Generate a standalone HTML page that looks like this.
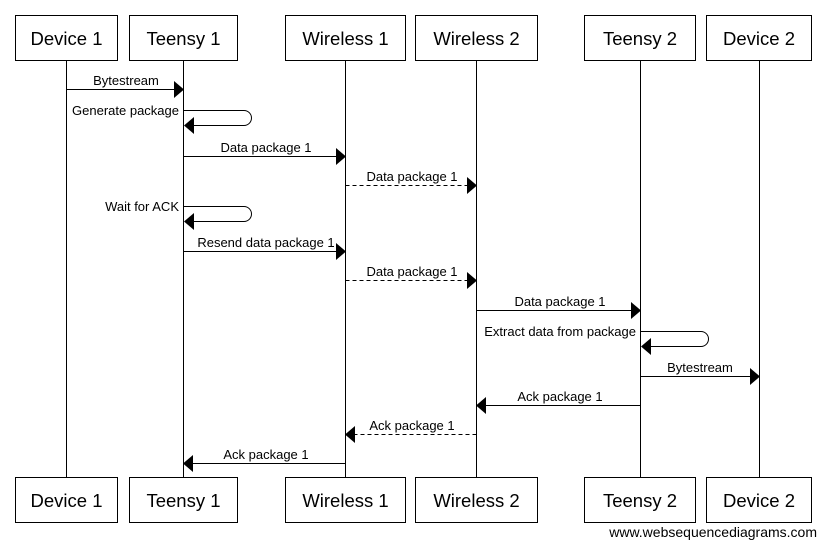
<!DOCTYPE html>
<html><head><meta charset="utf-8"><style>html,body{margin:0;padding:0;background:#fff}svg{display:block}</style></head><body>
<svg width="827" height="547" viewBox="0 0 827 547" xmlns="http://www.w3.org/2000/svg" font-family="Liberation Sans, Arial, sans-serif">
<g stroke="#000" stroke-width="1" fill="none">
<line x1="66.5" y1="60" x2="66.5" y2="477"/>
<line x1="183.5" y1="60" x2="183.5" y2="477"/>
<line x1="345.5" y1="60" x2="345.5" y2="477"/>
<line x1="476.5" y1="60" x2="476.5" y2="477"/>
<line x1="640.5" y1="60" x2="640.5" y2="477"/>
<line x1="759.5" y1="60" x2="759.5" y2="477"/>
<rect x="15.5" y="15.5" width="102" height="45"/>
<rect x="129.5" y="15.5" width="108" height="45"/>
<rect x="285.5" y="15.5" width="120" height="45"/>
<rect x="415.5" y="15.5" width="122" height="45"/>
<rect x="584.5" y="15.5" width="111" height="45"/>
<rect x="706.5" y="15.5" width="105" height="45"/>
<rect x="15.5" y="477.5" width="102" height="45"/>
<rect x="129.5" y="477.5" width="108" height="45"/>
<rect x="285.5" y="477.5" width="120" height="45"/>
<rect x="415.5" y="477.5" width="122" height="45"/>
<rect x="584.5" y="477.5" width="111" height="45"/>
<rect x="706.5" y="477.5" width="105" height="45"/>
<line x1="66.5" y1="89.5" x2="175" y2="89.5"/>
<path d="M184 110.5 H244 A7.5 7.5 0 0 1 244 125.5 H192"/>
<line x1="183.5" y1="156.5" x2="337" y2="156.5"/>
<line x1="345.5" y1="185.5" x2="468" y2="185.5" stroke-dasharray="4,3"/>
<path d="M184 206.5 H244 A7.5 7.5 0 0 1 244 221.5 H192"/>
<line x1="183.5" y1="251.5" x2="337" y2="251.5"/>
<line x1="345.5" y1="280.5" x2="468" y2="280.5" stroke-dasharray="4,3"/>
<line x1="476.5" y1="310.5" x2="632" y2="310.5"/>
<path d="M641 331.5 H701 A7.5 7.5 0 0 1 701 346.5 H649"/>
<line x1="640.5" y1="376.5" x2="751" y2="376.5"/>
<line x1="640.5" y1="405.5" x2="485" y2="405.5"/>
<line x1="476.5" y1="434.5" x2="354" y2="434.5" stroke-dasharray="4,3"/>
<line x1="345.5" y1="463.5" x2="192" y2="463.5"/>
</g>
<g fill="#000">
<polygon points="174,81 184,89.5 174,98"/>
<polygon points="194,117 184,125.5 194,134"/>
<polygon points="336,148 346,156.5 336,165"/>
<polygon points="467,177 477,185.5 467,194"/>
<polygon points="194,213 184,221.5 194,230"/>
<polygon points="336,243 346,251.5 336,260"/>
<polygon points="467,272 477,280.5 467,289"/>
<polygon points="631,302 641,310.5 631,319"/>
<polygon points="651,338 641,346.5 651,355"/>
<polygon points="750,368 760,376.5 750,385"/>
<polygon points="486,397 476,405.5 486,414"/>
<polygon points="355,426 345,434.5 355,443"/>
<polygon points="193,455 183,463.5 193,472"/>
</g>
<g font-size="18.5" text-anchor="middle" fill="#000">
<text x="66.5" y="45">Device 1</text><text x="183.5" y="45">Teensy 1</text><text x="345.5" y="45">Wireless 1</text><text x="476.5" y="45">Wireless 2</text><text x="640" y="45">Teensy 2</text><text x="759" y="45">Device 2</text>
<text x="66.5" y="507">Device 1</text><text x="183.5" y="507">Teensy 1</text><text x="345.5" y="507">Wireless 1</text><text x="476.5" y="507">Wireless 2</text><text x="640" y="507">Teensy 2</text><text x="759" y="507">Device 2</text>
</g>
<g font-size="13" fill="#000">
<text x="126" y="85" text-anchor="middle">Bytestream</text>
<text x="179" y="115" text-anchor="end">Generate package</text>
<text x="266" y="152" text-anchor="middle">Data package 1</text>
<text x="412" y="181" text-anchor="middle">Data package 1</text>
<text x="179" y="211" text-anchor="end">Wait for ACK</text>
<text x="266" y="247" text-anchor="middle">Resend data package 1</text>
<text x="412" y="276" text-anchor="middle">Data package 1</text>
<text x="560" y="306" text-anchor="middle">Data package 1</text>
<text x="636" y="336" text-anchor="end">Extract data from package</text>
<text x="700" y="372" text-anchor="middle">Bytestream</text>
<text x="560" y="401" text-anchor="middle">Ack package 1</text>
<text x="412" y="430" text-anchor="middle">Ack package 1</text>
<text x="266" y="459" text-anchor="middle">Ack package 1</text>
<text x="817" y="537" text-anchor="end" font-size="14">www.websequencediagrams.com</text>
</g>
</svg>
</body></html>
